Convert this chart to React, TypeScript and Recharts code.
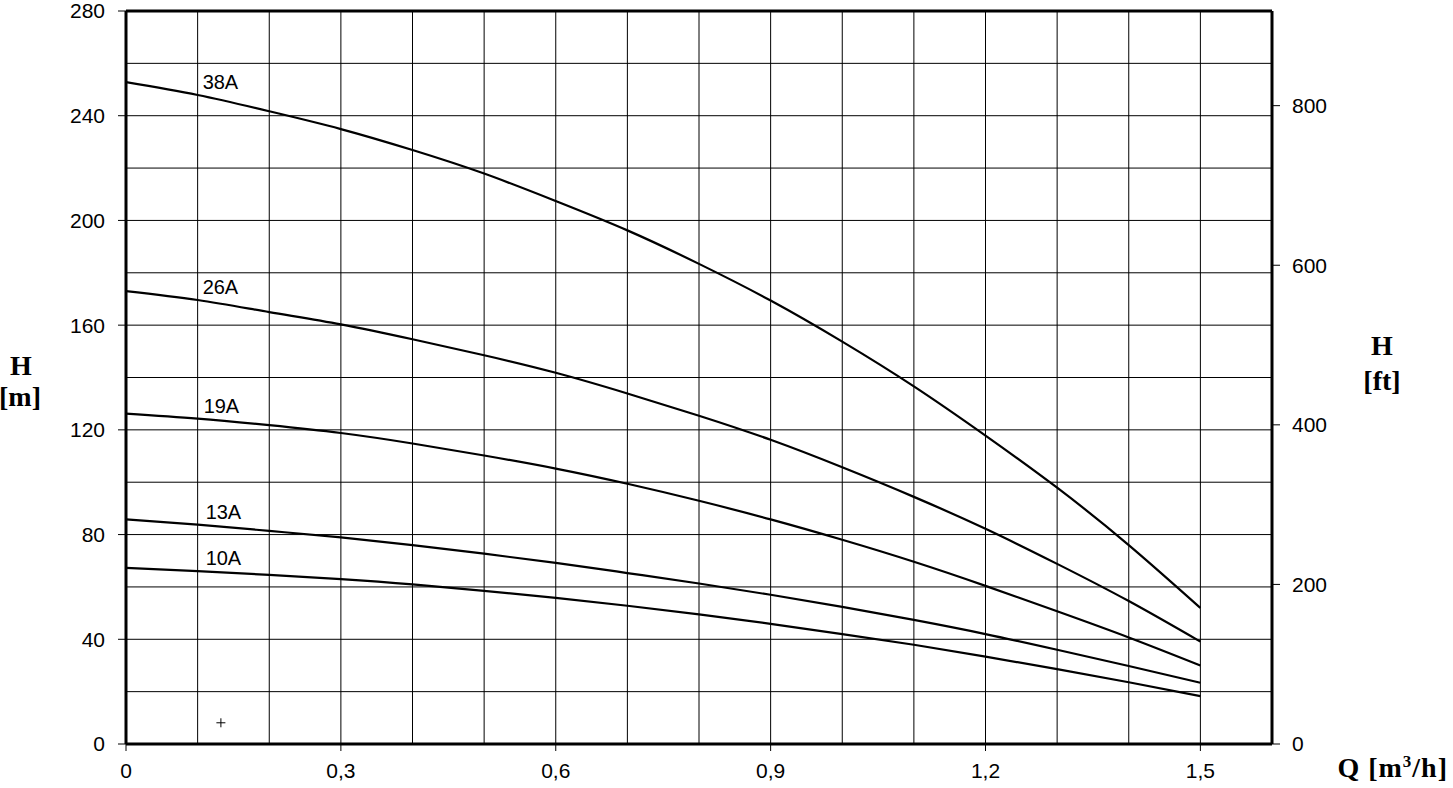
import React from 'react';
import {
  ComposedChart,
  Line,
  XAxis,
  YAxis,
  CartesianGrid,
  ReferenceLine,
  ReferenceDot,
} from 'recharts';

// ---- data ----
const flowQ = [0, 0.1, 0.2, 0.3, 0.4, 0.5, 0.6, 0.7, 0.8, 0.9, 1.0, 1.1, 1.2, 1.3, 1.4, 1.5];
const head38A = [252.8, 247.9, 241.7, 234.9, 226.9, 217.9, 207.4, 196.2, 183.4, 169.4, 153.7, 136.6, 117.8, 97.9, 76.0, 52.0];
const head26A = [173.0, 169.6, 165.0, 160.3, 154.6, 148.5, 141.8, 133.9, 125.4, 116.2, 105.7, 94.4, 82.2, 68.8, 54.6, 39.1];
const head19A = [126.2, 124.3, 121.8, 118.8, 114.8, 110.2, 105.2, 99.4, 92.9, 85.8, 78.0, 69.6, 60.4, 50.7, 40.7, 30.0];
const head13A = [85.8, 83.8, 81.4, 78.9, 76.0, 72.7, 69.2, 65.3, 61.3, 57.0, 52.4, 47.4, 42.0, 36.0, 29.8, 23.4];
const head10A = [67.3, 66.0, 64.6, 63.0, 61.0, 58.5, 55.8, 52.8, 49.5, 45.9, 42.0, 37.9, 33.4, 28.6, 23.6, 18.3];

const seriesNames = ['38A', '26A', '19A', '13A', '10A'];
const seriesValues = [head38A, head26A, head19A, head13A, head10A];

const xTicks = [0, 0.3, 0.6, 0.9, 1.2, 1.5];
const xTickLabels = ['0', '0,3', '0,6', '0,9', '1,2', '1,5'];
const xGrid = [0.1, 0.2, 0.3, 0.4, 0.5, 0.6, 0.7, 0.8, 0.9, 1.0, 1.1, 1.2, 1.3, 1.4, 1.5];
const yTicksM = [0, 40, 80, 120, 160, 200, 240, 280];
const yGridM = [20, 40, 60, 80, 100, 120, 140, 160, 180, 200, 220, 240, 260];
const yTicksFt = [0, 200, 400, 600, 800];
const maxHeadM = 280;
const maxFlow = 1.6;
const ftPerM = 3.28084;
const markerPoint = { q: 0.1325, h: 8.1 };
const labelIndex = 1;

const tableData = flowQ.map((q, i) => {
  const row: Record<string, number> = { q };
  seriesNames.forEach((name, s) => {
    row[name] = seriesValues[s][i];
  });
  return row;
});

// ---- styling ----
const SANS = '"Liberation Sans", Arial, Helvetica, sans-serif';
const SERIF = '"Liberation Serif", "Times New Roman", serif';
const tickStyle = { fill: '#000', fontSize: 21, fontFamily: SANS };

const CHART_W = 1453;
const CHART_H = 788;

const makeLabel = (name: string, dx: number) => (props: any) => {
  const { x, y, index } = props;
  if (index !== labelIndex) return null;
  return (
    <text
      x={x + dx}
      y={y - 6}
      fill="#000"
      fontSize={20}
      fontFamily={SANS}
      textAnchor="start"
    >
      {name}
    </text>
  );
};

const labelDx = [5, 5, 6, 8, 8];

const LeftTitle = (props: any) => {
  const vb = props.viewBox || { x: 0, y: 0, width: 0, height: 0 };
  const cx = vb.x + 21;
  const cy = vb.y + vb.height / 2;
  return (
    <g>
      <text x={cx} y={cy - 3} textAnchor="middle" fontFamily={SERIF} fontWeight="bold" fontSize={28} fill="#000">
        H
      </text>
      <text x={cx - 1} y={cy + 28} textAnchor="middle" fontFamily={SERIF} fontWeight="bold" fontSize={28} fill="#000">
        [m]
      </text>
    </g>
  );
};

const RightTitle = (props: any) => {
  const vb = props.viewBox || { x: 0, y: 0, width: 0, height: 0 };
  const cx = vb.x + 110;
  const cy = vb.y + vb.height / 2;
  return (
    <g>
      <text x={cx} y={cy - 23} textAnchor="middle" fontFamily={SERIF} fontWeight="bold" fontSize={28} fill="#000">
        H
      </text>
      <text x={cx} y={cy + 12} textAnchor="middle" fontFamily={SERIF} fontWeight="bold" fontSize={28} fill="#000">
        [ft]
      </text>
    </g>
  );
};

const BottomTitle = (props: any) => {
  const vb = props.viewBox || { x: 0, y: 0, width: 0, height: 0 };
  const xEnd = vb.x + vb.width + 176;
  const yBase = vb.y + 33;
  return (
    <text x={xEnd} y={yBase} textAnchor="end" fontFamily={SERIF} fontWeight="bold" fontSize={28} letterSpacing={1} fill="#000">
      <tspan>Q [m</tspan>
      <tspan fontSize={17} dy={-10}>3</tspan>
      <tspan dy={10}>/h]</tspan>
    </text>
  );
};

const PlusShape = (props: any) => {
  const { cx, cy } = props;
  return (
    <g>
      <line x1={cx - 4.5} y1={cy} x2={cx + 4.5} y2={cy} stroke="#000" strokeWidth={1} />
      <line x1={cx} y1={cy - 4.5} x2={cx} y2={cy + 4.5} stroke="#000" strokeWidth={1} />
    </g>
  );
};

export default function App() {
  return (
    <div style={{ position: 'absolute', left: 0, top: 0, width: CHART_W, height: CHART_H, background: '#fff' }}>
      <ComposedChart
        width={CHART_W}
        height={CHART_H}
        data={tableData}
        margin={{ top: 11, right: 0, bottom: 0, left: 0 }}
      >
        <CartesianGrid
          stroke="#000"
          strokeWidth={1}
          horizontalValues={yGridM}
          verticalValues={xGrid}
          yAxisId="m"
        />
        <XAxis
          dataKey="q"
          type="number"
          domain={[0, maxFlow]}
          allowDataOverflow
          ticks={xTicks}
          tickFormatter={(v: number) => xTickLabels[xTicks.indexOf(v)] ?? String(v)}
          height={44}
          tickSize={7}
          tickMargin={12}
          tick={tickStyle}
          tickLine={{ stroke: '#000', strokeWidth: 1 }}
          axisLine={{ stroke: '#000', strokeWidth: 3 }}
          interval={0}
          label={<BottomTitle />}
        />
        <YAxis
          yAxisId="m"
          type="number"
          domain={[0, maxHeadM]}
          allowDataOverflow
          ticks={yTicksM}
          width={126}
          tickSize={8}
          tickMargin={13}
          tick={tickStyle}
          tickLine={{ stroke: '#000', strokeWidth: 1 }}
          axisLine={{ stroke: '#000', strokeWidth: 3 }}
          interval={0}
          label={<LeftTitle />}
        />
        <YAxis
          yAxisId="ft"
          orientation="right"
          type="number"
          domain={[0, maxHeadM * ftPerM]}
          allowDataOverflow
          ticks={yTicksFt}
          width={181}
          tickSize={8}
          tickMargin={12}
          tick={{ ...tickStyle, textAnchor: 'start' }}
          tickLine={{ stroke: '#000', strokeWidth: 1 }}
          axisLine={{ stroke: '#000', strokeWidth: 3 }}
          interval={0}
          label={<RightTitle />}
        />
        <ReferenceLine yAxisId="m" y={maxHeadM} stroke="#000" strokeWidth={3} />
        {seriesNames.map((name, s) => (
          <Line
            key={name}
            yAxisId="m"
            dataKey={name}
            type="natural"
            stroke="#000"
            strokeWidth={2.2}
            dot={false}
            activeDot={false}
            isAnimationActive={false}
            label={makeLabel(name, labelDx[s])}
          />
        ))}
        <ReferenceDot
          yAxisId="m"
          x={markerPoint.q}
          y={markerPoint.h}
          r={4}
          shape={PlusShape}
        />
      </ComposedChart>
    </div>
  );
}
